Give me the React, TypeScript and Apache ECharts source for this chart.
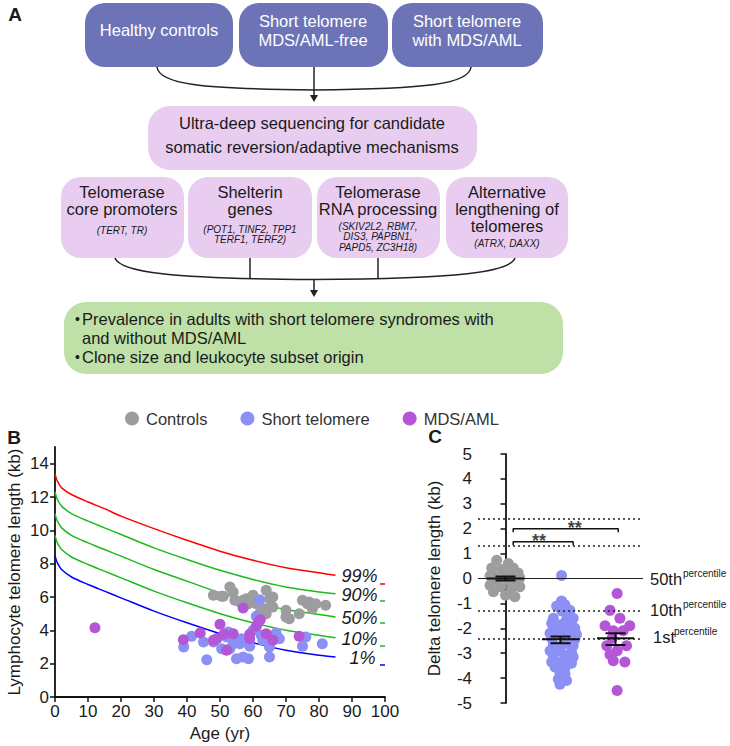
import React, { useEffect, useRef } from 'react';
import * as echarts from 'echarts';

const FONT = "'Liberation Sans', Arial, Helvetica, sans-serif";
const INK = '#1a1a1a';

// ---------- Panel B data ----------
const pctAges = [0, 0.5, 1, 2, 5, 10, 15, 20, 30, 40, 50, 60, 70, 80, 85];
const p99 = [13.4, 13.05, 12.85, 12.55, 12.15, 11.7, 11.3, 10.85, 10.1, 9.4, 8.75, 8.2, 7.75, 7.45, 7.3];
const p90 = [12.3, 11.95, 11.75, 11.45, 11.0, 10.55, 10.15, 9.75, 8.95, 8.25, 7.6, 7.05, 6.6, 6.3, 6.2];
const p50 = [11.0, 10.65, 10.45, 10.15, 9.7, 9.25, 8.85, 8.45, 7.65, 6.95, 6.25, 5.7, 5.25, 4.95, 4.8];
const p10 = [9.7, 9.35, 9.15, 8.85, 8.4, 7.95, 7.55, 7.15, 6.35, 5.65, 5.0, 4.45, 4.0, 3.7, 3.55];
const p1 = [8.5, 8.15, 7.95, 7.65, 7.2, 6.75, 6.35, 5.95, 5.15, 4.45, 3.8, 3.25, 2.8, 2.5, 2.4];
const pctLabels = ['99%', '90%', '50%', '10%', '1%'];

const controlsB = [
  [48, 6.1], [50.5, 6.05], [51, 6.05], [53, 6.6], [54, 6.3], [54.5, 5.8], [56, 5.7], [57, 5.8],
  [58, 5.9], [58.6, 5.6], [60, 6.1], [61, 5.6], [62, 5.0], [63.6, 5.3], [64, 6.4], [64, 5.0],
  [65, 5.9], [66, 5.4], [66, 6.0], [70, 5.2], [70, 4.8], [71, 4.7], [74, 5.0], [75, 5.8],
  [76.5, 5.6], [77, 5.7], [78, 5.3], [79, 5.6], [82, 5.5],
];
const shortB = [
  [39, 3.0], [41.4, 3.64], [45, 3.3], [46, 2.24], [48, 3.3], [50.5, 2.9], [52, 3.6], [52.5, 3.9],
  [53, 2.9], [54, 3.2], [54, 3.6], [55, 2.3], [56, 3.2], [56.5, 3.5], [57, 2.4], [58, 3.4],
  [58.6, 2.3], [59, 3.04], [60, 4.0], [61, 4.84], [62, 5.84], [62.5, 3.7], [63, 3.4], [65, 3.0],
  [65, 2.4], [67, 3.84], [68, 3.5], [75, 3.04], [76, 3.6], [81, 3.2],
];
const mdsB = [
  [12.1, 4.16], [38.9, 3.44], [44, 3.84], [48, 3.4], [49, 3.5], [50, 4.36], [51.2, 3.76], [52, 2.8],
  [54, 3.8], [57, 5.34], [59, 3.76], [59, 3.5], [61, 4.24], [61.6, 4.5], [62.2, 4.64], [64, 3.8],
  [66, 3.4], [74, 3.64],
];

// ---------- Panel C data ----------
const groupsC = ['Controls', 'Short telomere', 'MDS/AML'];
const controlsC = [
  [-0.16, 0.73], [0.05, 0.6], [-0.25, 0.42], [-0.07, 0.36], [0.14, 0.42], [0.05, 0.2], [0.23, 0.22],
  [-0.22, 0.1], [0.0, 0.1], [-0.28, 0.1], [0.2, -0.05], [-0.13, -0.05], [0.07, -0.1], [0.26, 0.02],
  [-0.28, -0.27], [-0.09, -0.33], [0.11, -0.4], [0.26, -0.33], [-0.22, -0.53], [0.0, -0.67], [0.17, -0.73],
];
const shortC = [
  [1.02, 0.12], [1.02, -0.9], [0.93, -1.1], [1.08, -1.05], [1.02, -1.3], [1.17, -1.28],
  [0.87, -1.6], [1.11, -1.65], [1.23, -1.6], [0.84, -1.8], [1.02, -1.85], [1.2, -1.85],
  [0.87, -2.0], [1.11, -2.0], [1.26, -2.0], [0.81, -2.2], [0.99, -2.2], [1.2, -2.2], [1.29, -2.25],
  [0.84, -2.4], [1.08, -2.4], [1.26, -2.45], [0.87, -2.65], [1.05, -2.65], [1.23, -2.7],
  [0.81, -2.9], [0.99, -2.9], [1.2, -2.95], [0.87, -3.1], [1.08, -3.1], [1.23, -3.15],
  [0.84, -3.35], [1.02, -3.35], [1.2, -3.4], [0.9, -3.55], [1.08, -3.6], [0.99, -3.8],
  [1.08, -3.85], [0.96, -4.05], [1.11, -4.1], [0.99, -4.25],
];
const mdsC = [
  [2.03, -0.6], [1.9, -1.28], [2.08, -1.6], [1.81, -1.9], [2.26, -1.9], [1.96, -2.1], [2.14, -2.1],
  [1.94, -2.4], [1.84, -2.7], [2.2, -2.7], [2.03, -2.9], [1.9, -3.05], [1.96, -3.3], [2.17, -3.35],
  [2.03, -4.5],
];
// [group, mean, lower SEM, upper SEM]
const meanSemC = [
  [0, 0.0, -0.08, 0.08],
  [1, -2.44, -2.6, -2.33],
  [2, -2.4, -2.67, -2.2],
];
const refLinesDotted = [2.4, 1.3, -1.3, -2.4];
// brackets: [x1, x2, y]
const bracketsC = [
  [0.14, 1.23, 1.48],
  [0.14, 2.05, 2.0],
];
const starPos = [
  [0.61, 1.62],
  [1.26, 2.14],
];

const GRAY = '#9d9d9f';
const BLUE = '#8c90f4';
const PURPLE = '#b457d6';
const TOPBOX = '#6c74b7';
const PINK = '#e8cdf1';
const GREEN = '#bfe0a7';

function txt(x: number, y: number, text: string, opts: any = {}) {
  return {
    type: 'text',
    x,
    y,
    silent: true,
    style: {
      text,
      fill: opts.fill || INK,
      fontSize: opts.fontSize || 16.5,
      fontFamily: FONT,
      fontStyle: opts.fontStyle || 'normal',
      fontWeight: opts.fontWeight || 'normal',
      textAlign: opts.align || 'center',
      textVerticalAlign: 'middle',
      verticalAlign: 'middle',
    },
  };
}
function box(x: number, y: number, w: number, h: number, fill: string, r = 20) {
  return { type: 'rect', silent: true, shape: { x, y, width: w, height: h, r }, style: { fill } };
}
function bez(x1: number, y1: number, c1x: number, c1y: number, c2x: number, c2y: number, x2: number, y2: number) {
  return {
    type: 'bezierCurve',
    silent: true,
    shape: { x1, y1, cpx1: c1x, cpy1: c1y, cpx2: c2x, cpy2: c2y, x2, y2 },
    style: { stroke: '#222', lineWidth: 1.5, fill: 'none' },
  };
}
function ln(x1: number, y1: number, x2: number, y2: number, stroke = '#222', lw = 1.5) {
  return { type: 'line', silent: true, shape: { x1, y1, x2, y2 }, style: { stroke, lineWidth: lw } };
}
function arrowHead(x: number, y: number) {
  return { type: 'polygon', silent: true, shape: { points: [[x - 4, y - 7], [x + 4, y - 7], [x, y]] }, style: { fill: '#222' } };
}

const gene = { fontSize: 10, fontStyle: 'italic' };

const graphicA = [
  txt(15, 14, 'A', { fontWeight: 'bold', fontSize: 19 }),
  box(85, 3, 148, 64, TOPBOX),
  box(239, 3, 149, 64, TOPBOX),
  box(392, 3, 151, 64, TOPBOX),
  txt(159, 30, 'Healthy controls', { fill: '#fff' }),
  txt(313, 21, 'Short telomere', { fill: '#fff' }),
  txt(313, 40, 'MDS/AML-free', { fill: '#fff' }),
  txt(467, 21, 'Short telomere', { fill: '#fff' }),
  txt(467, 40, 'with MDS/AML', { fill: '#fff' }),
  bez(157, 67, 159, 84, 200, 89, 314, 90),
  bez(471, 67, 469, 84, 428, 89, 314, 90),
  ln(314, 67, 314, 96),
  arrowHead(314, 102),
  box(148, 106, 329, 64, PINK, 22),
  txt(312, 123, 'Ultra-deep sequencing for candidate'),
  txt(312, 147, 'somatic reversion/adaptive mechanisms'),
  box(61, 177, 123, 81, PINK),
  box(188, 177, 124, 81, PINK),
  box(317, 177, 123, 81, PINK),
  box(446, 177, 122, 81, PINK),
  txt(122, 192, 'Telomerase'),
  txt(122, 209, 'core promoters'),
  txt(122, 230, '(TERT, TR)', gene),
  txt(250, 192, 'Shelterin'),
  txt(250, 209, 'genes'),
  txt(250, 229, '(POT1, TINF2, TPP1', gene),
  txt(250, 239.5, 'TERF1, TERF2)', gene),
  txt(378, 192, 'Telomerase'),
  txt(378, 209, 'RNA processing'),
  txt(378, 226, '(SKIV2L2, RBM7,', gene),
  txt(378, 236.5, 'DIS3, PAPBN1,', gene),
  txt(378, 247, 'PAPD5, ZC3H18)', gene),
  txt(507, 192, 'Alternative'),
  txt(507, 209, 'lengthening of'),
  txt(507, 226, 'telomeres'),
  txt(507, 243, '(ATRX, DAXX)', gene),
  bez(115, 258, 120, 272, 170, 279, 314, 279.5),
  bez(515, 258, 510, 272, 460, 279, 314, 279.5),
  ln(250, 258, 250, 279),
  ln(378, 258, 378, 279),
  ln(314, 279, 314, 291),
  arrowHead(314, 297),
  box(64, 302, 499, 72, GREEN, 22),
  txt(75, 319, '•', { align: 'left', fontSize: 14 }),
  txt(82, 319, 'Prevalence in adults with short telomere syndromes with', { align: 'left' }),
  txt(82, 338, 'and without MDS/AML', { align: 'left' }),
  txt(75, 357, '•', { align: 'left', fontSize: 14 }),
  txt(82, 357, 'Clone size and leukocyte subset origin', { align: 'left' }),
  // panel labels
  txt(14, 437, 'B', { fontWeight: 'bold', fontSize: 19 }),
  txt(435, 436, 'C', { fontWeight: 'bold', fontSize: 19 }),
  // small colored dashes beside percentile labels
  ln(380, 584, 385, 584, '#ff0000', 1.5),
  ln(380, 601, 385, 601, '#1dba1d', 1.5),
  ln(380, 623, 385, 623, '#1dba1d', 1.5),
  ln(380, 646, 385, 646, '#1dba1d', 1.5),
  ln(380, 665, 385, 665, '#0000ff', 1.5),
  // percentile labels in C
  txt(650, 579, '50th', { align: 'left' }),
  txt(683, 573, 'percentile', { align: 'left', fontSize: 10 }),
  txt(650, 610, '10th', { align: 'left' }),
  txt(683, 604, 'percentile', { align: 'left', fontSize: 10 }),
  txt(653, 637, '1st', { align: 'left' }),
  txt(674, 631, 'percentile', { align: 'left', fontSize: 10 }),
];

function pctSeries(vals: number[], color: string, label: string, offsetX: number) {
  return {
    type: 'line',
    xAxisIndex: 0,
    yAxisIndex: 0,
    data: pctAges.map((a, i) => [a, vals[i]]),
    showSymbol: false,
    symbol: 'none',
    smooth: 0.3,
    silent: true,
    lineStyle: { color, width: 1.5 },
    z: 1,
    endLabel: {
      show: true,
      formatter: label,
      fontFamily: FONT,
      fontStyle: 'italic',
      fontSize: 18,
      color: INK,
      distance: 6,
      offset: [offsetX, 1],
    },
  };
}

const axisTextB = { fontFamily: FONT, fontSize: 17, color: INK };

const option: any = {
  animation: false,
  backgroundColor: '#fff',
  textStyle: { fontFamily: FONT },
  legend: {
    data: groupsC,
    left: 120,
    top: 405,
    itemWidth: 14,
    itemHeight: 14,
    itemGap: 33,
    icon: 'circle',
    textStyle: { fontFamily: FONT, fontSize: 16.5, color: '#333', padding: [0, 0, 0, 2] },
    selectedMode: false,
  },
  grid: [
    { left: 55, top: 447, width: 330, height: 250 },
    { left: 478, top: 454, width: 165, height: 249 },
  ],
  xAxis: [
    {
      gridIndex: 0,
      type: 'value',
      min: 0,
      max: 100,
      interval: 10,
      name: 'Age (yr)',
      nameLocation: 'middle',
      nameGap: 28,
      nameTextStyle: { fontFamily: FONT, fontSize: 17, color: INK },
      axisLine: { lineStyle: { color: '#111', width: 1.8 } },
      axisTick: { show: true, length: 5, lineStyle: { color: '#111', width: 1.5 } },
      axisLabel: { ...axisTextB, margin: 6 },
      splitLine: { show: false },
    },
    {
      gridIndex: 1,
      type: 'value',
      min: -0.5,
      max: 2.5,
      show: false,
      splitLine: { show: false },
    },
  ],
  yAxis: [
    {
      gridIndex: 0,
      type: 'value',
      min: 0,
      max: 15,
      name: 'Lymphocyte telomere length (kb)',
      nameLocation: 'middle',
      nameGap: 32,
      nameTextStyle: { fontFamily: FONT, fontSize: 17, color: INK },
      axisLine: { show: true, lineStyle: { color: '#111', width: 1.8 } },
      axisTick: { show: true, length: 5, lineStyle: { color: '#111', width: 1.5 }, customValues: [0, 2, 4, 6, 8, 10, 12, 14] },
      axisLabel: { ...axisTextB, margin: 6, customValues: [0, 2, 4, 6, 8, 10, 12, 14] },
      splitLine: { show: false },
    },
    {
      gridIndex: 1,
      type: 'value',
      min: -5,
      max: 5,
      interval: 1,
      name: 'Delta telomere length (kb)',
      nameLocation: 'middle',
      nameGap: 35,
      nameTextStyle: { fontFamily: FONT, fontSize: 17, color: INK },
      axisLine: { show: true, lineStyle: { color: '#111', width: 1.8 } },
      axisTick: { show: true, length: 5, lineStyle: { color: '#111', width: 1.5 } },
      axisLabel: { ...axisTextB, margin: 6 },
      splitLine: { show: false },
    },
  ],
  graphic: graphicA,
  series: [
    pctSeries(p99, '#ff0000', pctLabels[0], 0),
    pctSeries(p90, '#1dba1d', pctLabels[1], 0),
    pctSeries(p50, '#1dba1d', pctLabels[2], 0),
    pctSeries(p10, '#1dba1d', pctLabels[3], 0),
    pctSeries(p1, '#0000ff', pctLabels[4], 8),
    {
      name: 'Controls', type: 'scatter', xAxisIndex: 0, yAxisIndex: 0, data: controlsB,
      symbolSize: 11, itemStyle: { color: GRAY, opacity: 1 }, z: 3,
    },
    {
      name: 'Short telomere', type: 'scatter', xAxisIndex: 0, yAxisIndex: 0, data: shortB,
      symbolSize: 11, itemStyle: { color: BLUE, opacity: 1 }, z: 3,
    },
    {
      name: 'MDS/AML', type: 'scatter', xAxisIndex: 0, yAxisIndex: 0, data: mdsB,
      symbolSize: 11, itemStyle: { color: PURPLE, opacity: 1 }, z: 4,
    },
    // Panel C
    {
      type: 'line', xAxisIndex: 1, yAxisIndex: 1, data: [], silent: true,
      markLine: {
        silent: true, symbol: 'none', label: { show: false },
        data: [
          { yAxis: 0, lineStyle: { type: 'solid', color: '#222', width: 1.2 } },
          ...refLinesDotted.map((v) => ({ yAxis: v, lineStyle: { type: [2, 3], color: '#222', width: 1.5 } })),
        ],
      },
    },
    {
      name: 'Controls', type: 'scatter', xAxisIndex: 1, yAxisIndex: 1, data: controlsC,
      symbolSize: 11, itemStyle: { color: GRAY, opacity: 1 }, z: 3,
    },
    {
      name: 'Short telomere', type: 'scatter', xAxisIndex: 1, yAxisIndex: 1, data: shortC,
      symbolSize: 11, itemStyle: { color: BLUE, opacity: 1 }, z: 3,
    },
    {
      name: 'MDS/AML', type: 'scatter', xAxisIndex: 1, yAxisIndex: 1, data: mdsC,
      symbolSize: 11, itemStyle: { color: PURPLE, opacity: 1 }, z: 3,
    },
    {
      type: 'custom', xAxisIndex: 1, yAxisIndex: 1, data: meanSemC, silent: true, z: 10,
      renderItem: (params: any, api: any) => {
        const x = api.value(0);
        const c = api.coord([x, api.value(1)]);
        const lo = api.coord([x, api.value(2)]);
        const hi = api.coord([x, api.value(3)]);
        const st = { stroke: '#111', lineWidth: 2 };
        return {
          type: 'group',
          children: [
            { type: 'line', shape: { x1: c[0] - 18.5, y1: c[1], x2: c[0] + 18.5, y2: c[1] }, style: st },
            { type: 'line', shape: { x1: c[0], y1: lo[1], x2: c[0], y2: hi[1] }, style: st },
            { type: 'line', shape: { x1: c[0] - 10, y1: lo[1], x2: c[0] + 10, y2: lo[1] }, style: st },
            { type: 'line', shape: { x1: c[0] - 10, y1: hi[1], x2: c[0] + 10, y2: hi[1] }, style: st },
          ],
        };
      },
    },
    ...bracketsC.map((b) => ({
      type: 'line', xAxisIndex: 1, yAxisIndex: 1, silent: true, symbol: 'none',
      data: [[b[0], b[2] - 0.14], [b[0], b[2]], [b[1], b[2]], [b[1], b[2] - 0.14]],
      lineStyle: { color: '#111', width: 1.5 }, z: 5,
    })),
    {
      type: 'scatter', xAxisIndex: 1, yAxisIndex: 1, silent: true, data: starPos,
      symbolSize: 2, itemStyle: { color: 'rgba(0,0,0,0)' }, z: 6,
      label: {
        show: true, position: 'inside', formatter: '**', fontFamily: FONT, fontSize: 18,
        fontWeight: 'bold', color: '#111', offset: [0, 3],
      },
    },
  ],
};

export default function App() {
  const ref = useRef<HTMLDivElement>(null);
  useEffect(() => {
    const chart = echarts.init(ref.current as HTMLDivElement, null, { renderer: 'svg', width: 730, height: 746 });
    chart.setOption(option);
    return () => chart.dispose();
  }, []);
  return (
    <div
      ref={ref}
      style={{ position: 'absolute', left: 0, top: 0, width: 730, height: 746, background: '#fff' }}
    />
  );
}
